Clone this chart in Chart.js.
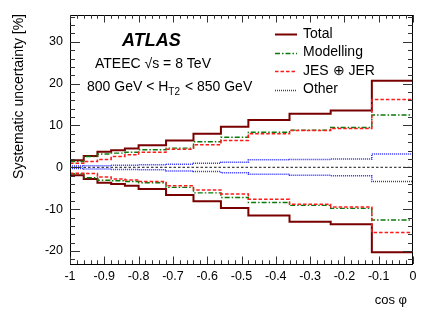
<!DOCTYPE html>
<html>
<head>
<meta charset="utf-8">
<script src="https://cdn.jsdelivr.net/npm/chart.js@4.4.1/dist/chart.umd.min.js"></script>
<style>
  body { margin: 0; background: #fff; }
  #wrap { width: 436px; height: 316px; }
</style>
</head>
<body>
<div id="wrap"><canvas id="myChart" width="436" height="316"></canvas></div>
<script>
// bin edges in cos phi
const binEdges = [-1, -0.96, -0.92, -0.88, -0.84, -0.80, -0.72, -0.64, -0.56, -0.48, -0.36, -0.24, -0.12, 0];

// relative uncertainties per bin [%]
const totalUp    = [1.7, 2.7, 3.7, 4.1, 4.5, 5.3, 6.4, 8.0, 9.7, 11.3, 12.8, 13.6, 20.7];
const totalDown  = [-1.9, -2.8, -3.7, -4.0, -4.4, -5.2, -6.6, -8.1, -9.7, -11.5, -13.0, -13.6, -20.3];
const modelUp    = [1.4, 2.6, 3.2, 3.4, 3.6, 4.2, 4.6, 6.1, 7.2, 8.4, 8.9, 9.5, 12.5];
const modelDown  = [-1.5, -2.5, -3.1, -3.2, -3.4, -3.7, -4.8, -6.1, -7.2, -8.4, -9.1, -9.8, -12.6];
const jesUp      = [1.0, 1.4, 1.9, 2.6, 3.0, 3.6, 4.3, 5.4, 6.4, 8.0, 8.8, 9.3, 16.2];
const jesDown    = [-1.4, -1.5, -2.3, -2.8, -3.0, -3.4, -4.4, -5.4, -6.4, -7.6, -8.8, -9.5, -15.6];
const otherUp    = [0.3, 0.4, 0.4, 0.5, 0.5, 0.6, 0.75, 1.0, 1.2, 1.8, 1.9, 2.0, 3.2];
const otherDown  = [-0.3, -0.4, -0.4, -0.5, -0.5, -0.6, -0.85, -1.0, -1.3, -1.65, -1.9, -2.0, -3.4];
const zeroLine   = [0, 0, 0, 0, 0, 0, 0, 0, 0, 0, 0, 0, 0];

const yTicks = [-20, -10, 0, 10, 20, 30];
const legendNames = ["Total", "Modelling", "JES \u2295 JER", "Other"];

const FONT = "'Liberation Sans', Arial, Helvetica, sans-serif";

// turn bin contents into points for a stepped line
function histPoints(vals) {
  const pts = vals.map((v, i) => ({ x: binEdges[i], y: v }));
  pts.push({ x: binEdges[binEdges.length - 1], y: vals[vals.length - 1] });
  return pts;
}

const styles = {
  total: { color: "#7a0000", width: 2, dash: [] },
  model: { color: "#0a7a0a", width: 1.4, dash: [5, 2, 1.5, 2] },
  jes:   { color: "#ff1a1a", width: 1.5, dash: [3.5, 2] },
  other: { color: "#2a2aff", width: 1.5, dash: [1, 1] },
  zero:  { color: "#444444", width: 1.3, dash: [2.5, 2] }
};

function ds(vals, st) {
  return {
    data: histPoints(vals),
    borderColor: st.color,
    borderWidth: st.width,
    borderDash: st.dash,
    stepped: true,
    pointRadius: 0,
    fill: false,
    tension: 0
  };
}

// frame, ROOT-style ticks, legend and labels
const decorations = {
  id: "decorations",
  afterDatasetsDraw(chart) {
    const ctx = chart.ctx;
    const a = chart.chartArea;
    const xs = chart.scales.x, ys = chart.scales.y;
    ctx.save();
    ctx.strokeStyle = "#000";
    ctx.lineWidth = 1;
    ctx.strokeRect(Math.round(a.left) + 0.5, Math.round(a.top) + 0.5,
                   Math.round(a.right - a.left) - 1, Math.round(a.bottom - a.top));

    ctx.strokeStyle = "#333";
    // y ticks: major every 10, minor every 2
    for (let v = -22; v <= 36; v += 2) {
      const y = Math.round(ys.getPixelForValue(v)) + 0.5;
      if (y < a.top || y > a.bottom) continue;
      const len = (v % 10 === 0) ? 10 : 5;
      ctx.beginPath();
      ctx.moveTo(a.left, y); ctx.lineTo(a.left + len, y);
      ctx.moveTo(a.right, y); ctx.lineTo(a.right - len, y);
      ctx.stroke();
    }
    // x ticks: major every 0.1, minor every 0.02
    for (let i = 0; i <= 50; i++) {
      const v = -1 + i * 0.02;
      const x = Math.round(xs.getPixelForValue(v)) + 0.5;
      const len = (i % 5 === 0) ? 7.5 : 3.75;
      ctx.beginPath();
      ctx.moveTo(x, a.bottom); ctx.lineTo(x, a.bottom - len);
      ctx.moveTo(x, a.top); ctx.lineTo(x, a.top + len);
      ctx.stroke();
    }

    // ATLAS label
    ctx.fillStyle = "#000";
    ctx.textBaseline = "middle";
    ctx.textAlign = "left";
    ctx.font = "italic bold 18px " + FONT;
    ctx.fillText("ATLAS", 122, 41);
    ctx.font = "14px " + FONT;
    ctx.fillText("ATEEC \u221As = 8 TeV", 95, 64);
    // 800 GeV < H_T2 < 850 GeV
    let x0 = 87;
    const part1 = "800 GeV < H";
    ctx.fillText(part1, x0, 87);
    x0 += ctx.measureText(part1).width;
    ctx.font = "10px " + FONT;
    ctx.fillText("T2", x0, 92);
    x0 += ctx.measureText("T2").width + 1;
    ctx.font = "14px " + FONT;
    ctx.fillText(" < 850 GeV", x0, 87);

    // legend
    const legStyles = [styles.total, styles.model, styles.jes, styles.other];
    legendNames.forEach((name, i) => {
      const y = 34 + i * 18.5;
      const st = legStyles[i];
      ctx.strokeStyle = st.color;
      ctx.lineWidth = st.width;
      ctx.setLineDash(st.dash);
      ctx.beginPath();
      ctx.moveTo(275, Math.round(y) + 0.5);
      ctx.lineTo(297, Math.round(y) + 0.5);
      ctx.stroke();
      ctx.setLineDash([]);
      ctx.fillStyle = "#000";
      ctx.font = "14px " + FONT;
      ctx.fillText(name, 303, y);
    });

    // axis titles
    ctx.font = "13px " + FONT;
    ctx.textAlign = "right";
    ctx.fillText("cos \u03c6", 407, 300);
    ctx.font = "14px " + FONT;
    ctx.translate(19, 14);
    ctx.rotate(-Math.PI / 2);
    ctx.textAlign = "right";
    ctx.fillText("Systematic uncertainty [%]", 0, 0);
    ctx.restore();
  }
};

new Chart("myChart", {
  type: "line",
  data: {
    datasets: [
      ds(zeroLine, styles.zero),
      ds(otherUp, styles.other),
      ds(otherDown, styles.other),
      ds(jesUp, styles.jes),
      ds(jesDown, styles.jes),
      ds(modelUp, styles.model),
      ds(modelDown, styles.model),
      ds(totalUp, styles.total),
      ds(totalDown, styles.total)
    ]
  },
  options: {
    responsive: false,
    animation: false,
    events: [],
    layout: { padding: { top: 15, right: 23, left: 0, bottom: 0 } },
    plugins: {
      legend: { display: false },
      tooltip: { enabled: false }
    },
    scales: {
      x: {
        type: "linear",
        min: -1,
        max: 0,
        afterFit: s => { s.height = 52; },
        grid: { display: false, drawTicks: false },
        border: { display: false },
        ticks: {
          stepSize: 0.1,
          padding: 5,
          color: "#000",
          font: { family: FONT, size: 12.5 },
          maxRotation: 0,
          autoSkip: false,
          callback: v => String(Number(v.toFixed(1)))
        }
      },
      y: {
        type: "linear",
        min: -23.1,
        max: 36.4,
        afterFit: s => { s.width = 70; },
        afterBuildTicks: s => { s.ticks = yTicks.map(v => ({ value: v })); },
        grid: { display: false, drawTicks: false },
        border: { display: false },
        ticks: {
          padding: 7,
          color: "#000",
          font: { family: FONT, size: 12.5 }
        }
      }
    }
  },
  plugins: [decorations]
});
</script>
</body>
</html>
